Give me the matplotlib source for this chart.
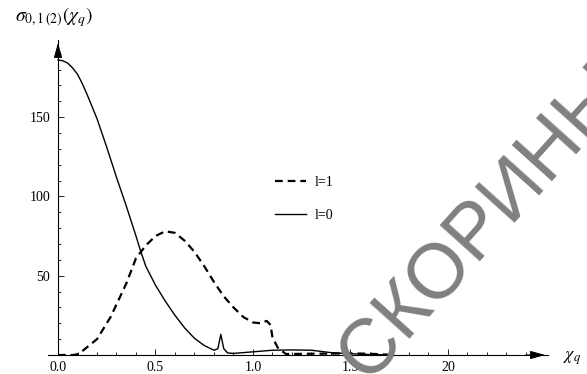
import numpy as np
import matplotlib
matplotlib.use("Agg")
from matplotlib import pyplot as plt

plt.rcParams['font.family'] = ['Liberation Serif', 'DejaVu Serif']
plt.rcParams['mathtext.fontset'] = 'stix'

# l=0 (solid)
x0 = [0.0, 0.025, 0.05, 0.075, 0.1, 0.125, 0.15, 0.2, 0.25, 0.3, 0.35, 0.4,
      0.42, 0.45, 0.5, 0.55, 0.6, 0.65, 0.7, 0.75, 0.8, 0.82, 0.835, 0.85,
      0.87, 0.9, 1.0, 1.1, 1.2, 1.3, 1.4, 1.5, 1.6, 1.7]
s0 = [186, 185.5, 184, 181, 177, 171, 164, 149, 131, 112, 94, 75,
      67, 56, 44, 34, 25, 17, 10.5, 6, 3, 4, 13, 4,
      1.3, 1, 2, 3, 3.2, 3, 1.5, 0.8, 0.3, 0]

# l=1 (dashed)
x1 = [0.0, 0.08, 0.1, 0.13, 0.2, 0.27, 0.35, 0.4, 0.45, 0.5, 0.55, 0.6, 0.65,
      0.7, 0.75, 0.8, 0.85, 0.9, 0.95, 1.0, 1.04, 1.07, 1.09, 1.1, 1.13, 1.17,
      1.3, 1.5, 1.6, 1.72]
s1 = [0, 0, 0.5, 3, 10, 24, 45, 61, 69, 75, 78, 77, 72,
      65, 56, 46, 37, 30, 24, 20.5, 20, 21.5, 19, 11, 4, 0.6,
      0.8, 1, 0.8, 0]

xticks = [0.0, 0.5, 1.0, 1.5, 2.0]
xtick_labels = ["0.0", "0.5", "1.0", "1.5", "20"]
yticks = [50, 100, 150]

W, H = 587, 374
fig = plt.figure(figsize=(W / 100, H / 100), dpi=100)
ax = fig.add_axes([48 / W, 19 / H, 500 / W, 315 / H])

ax.plot(x1, s1, color='k', lw=1.6, dashes=(3.5, 2.2), label='l=1')
ax.plot(x0, s0, color='k', lw=1.0, label='l=0')

ax.set_xlim(-0.0513, 2.513)
ax.set_ylim(0, 198.6)

for side in ['top', 'right']:
    ax.spines[side].set_visible(False)
ax.spines['left'].set_position(('data', 0))
ax.spines['bottom'].set_position(('data', 0))
ax.spines['left'].set_linewidth(0.8)
ax.spines['bottom'].set_linewidth(0.8)

ax.annotate('', xy=(1, 0), xycoords=ax.get_yaxis_transform(),
            xytext=(0.95, 0), textcoords=ax.get_yaxis_transform(),
            arrowprops=dict(arrowstyle='-|>,head_length=0.9,head_width=0.25',
                            color='k', lw=0.8))
ax.annotate('', xy=(0, 1), xycoords=ax.get_xaxis_transform(),
            xytext=(0, 0.95), textcoords=ax.get_xaxis_transform(),
            arrowprops=dict(arrowstyle='-|>,head_length=0.9,head_width=0.25',
                            color='k', lw=0.8))

ax.set_xticks(xticks)
ax.set_xticklabels(xtick_labels)
ax.set_xticks(np.arange(0.1, 2.45, 0.1), minor=True)
ax.set_yticks(yticks)
ax.set_yticks(np.arange(10, 195, 10), minor=True)
ax.tick_params(which='both', direction='in', labelsize=10, width=0.6)
ax.tick_params(which='major', length=4)
ax.tick_params(which='minor', length=2)
ax.tick_params(axis='x', pad=4)
ax.tick_params(axis='y', pad=5.5)

leg = ax.legend(loc='upper left', bbox_to_anchor=(262 / W, 1 - 163 / H),
                bbox_transform=fig.transFigure, frameon=False, fontsize=10,
                handlelength=2.3, labelspacing=1.5, handletextpad=0.6)

fig.text(15 / W, 1 - 17 / H, r'$\sigma_{0,1\,(2)}(\chi_q)$', fontsize=14,
         ha='left', va='center')
fig.text(572 / W, 1 - 358 / H, r'$\chi_q$', fontsize=13, ha='center', va='center')

# watermark
fig.text(484 / W, 1 - 222 / H, 'СКОРИНЫ', fontsize=56, color='#808080',
         family='Liberation Sans', rotation=48, rotation_mode='anchor',
         ha='center', va='center', zorder=10)

fig.savefig('out.png', dpi=100)
